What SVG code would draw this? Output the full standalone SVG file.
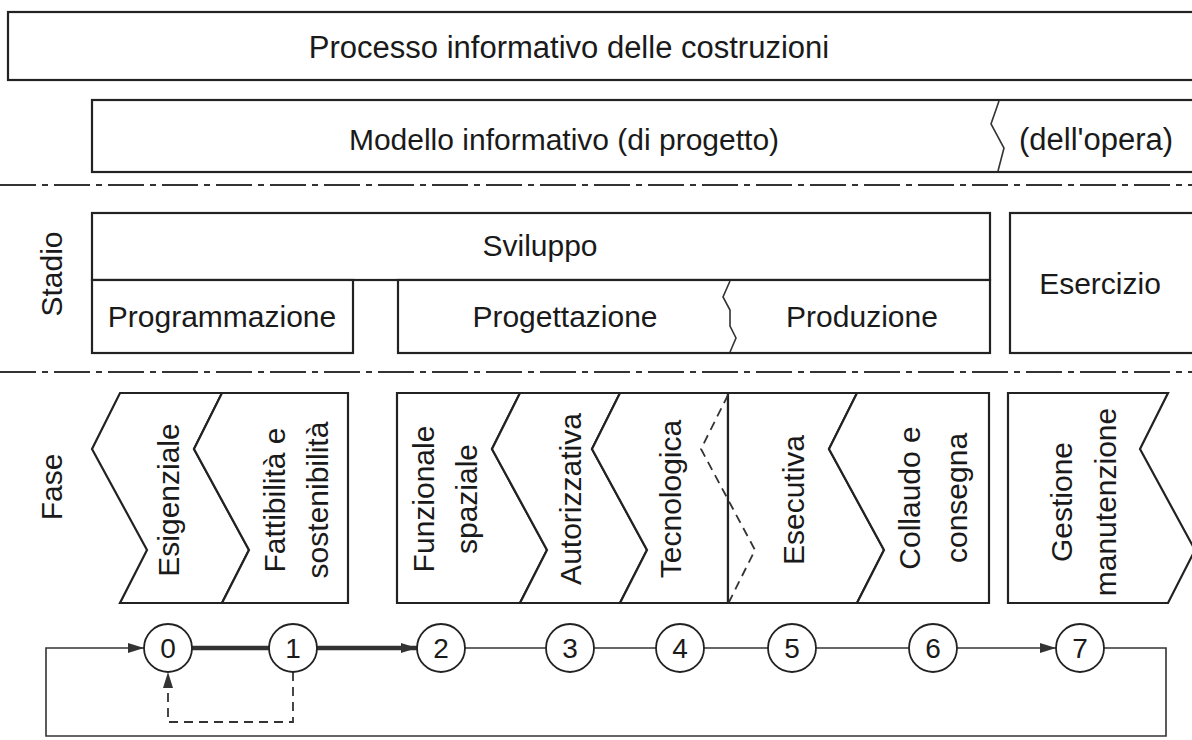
<svg xmlns="http://www.w3.org/2000/svg" width="1192" height="740" viewBox="0 0 1192 740">
<defs>
<marker id="arr" markerUnits="userSpaceOnUse" markerWidth="18" markerHeight="12" refX="16" refY="6" orient="auto"><path d="M0,1 L16,6 L0,11 Z" fill="#333"/></marker>
</defs>
<style>
.box{fill:#fff;stroke:#222;stroke-width:2.2}
.t{font-family:"Liberation Sans",Arial,sans-serif;font-size:30px;fill:#1a1a1a;text-anchor:middle}
.big{font-size:31px}
.sep{stroke:#333;stroke-width:2;stroke-dasharray:36 6 6 6;fill:none}
.ln{stroke:#333;stroke-width:1.6;fill:none}
.thick{stroke:#333;stroke-width:4.5;fill:none}
.dash{stroke:#333;stroke-width:1.8;stroke-dasharray:9 6;fill:none}
.c{fill:#fff;stroke:#222;stroke-width:1.8}
.n{font-family:"Liberation Sans",Arial,sans-serif;font-size:28px;fill:#1a1a1a;text-anchor:middle}
</style>
<rect width="1192" height="740" fill="#fff"/>

<g id="processo">
<rect class="box" x="8" y="12" width="1200" height="68"/>
<text class="t big" x="569" y="58">Processo informativo delle costruzioni</text>
</g>
<g id="modello">
<rect class="box" x="92" y="100" width="1120" height="72"/>
<path class="ln" d="M999 101 L991 124 L1004 148 L998 171"/>
<text class="t" x="564" y="150">Modello informativo (di progetto)</text>
<text class="t big" x="1096" y="150">(dell'opera)</text>
</g>

<g id="separators">
<line class="sep" x1="0" y1="185" x2="1192" y2="185"/>
<line class="sep" x1="0" y1="372" x2="1192" y2="372"/>
</g>

<g id="stadio-label"><text class="t" transform="translate(62,274) rotate(-90)">Stadio</text></g>
<g id="fase-label"><text class="t" transform="translate(62,487) rotate(-90)">Fase</text></g>

<g id="sviluppo">
<rect class="box" x="92" y="213" width="898" height="67"/>
<text class="t" x="540" y="256">Sviluppo</text>
</g>
<g id="programmazione">
<rect class="box" x="92" y="280" width="261" height="73"/>
<text class="t" x="222" y="327">Programmazione</text>
</g>
<g id="progettazione-produzione">
<rect class="box" x="398" y="280" width="592" height="73"/>
<path class="ln" d="M730 281 L723 297 L730 310 L730 326 L736 338 L730 352"/>
<text class="t" x="565" y="327">Progettazione</text>
<text class="t" x="862" y="327">Produzione</text>
</g>
<g id="esercizio">
<rect class="box" x="1010" y="213" width="200" height="140"/>
<text class="t" x="1100" y="294">Esercizio</text>
</g>

<g id="fase-esigenziale">
<polygon class="box" points="120,393 222,393 194,449 249,550 222,603 120,603 147,550 92,449"/>
<text class="t" transform="translate(179,500) rotate(-90)">Esigenziale</text>
</g>
<g id="fase-fattibilita">
<polygon class="box" points="222,393 348,393 348,603 222,603 249,550 194,449"/>
<text class="t" transform="translate(285,500) rotate(-90)">Fattibilità e</text>
<text class="t" transform="translate(328,500) rotate(-90)">sostenibilità</text>
</g>
<g id="fase-funzionale">
<polygon class="box" points="397,393 520,393 492,449 547,550 520,603 397,603"/>
<text class="t" transform="translate(434,499) rotate(-90)">Funzionale</text>
<text class="t" transform="translate(477,499) rotate(-90)">spaziale</text>
</g>
<g id="fase-autorizzativa">
<polygon class="box" points="520,393 620,393 592,449 647,550 620,603 520,603 547,550 492,449"/>
<text class="t" transform="translate(581,499) rotate(-90)">Autorizzativa</text>
</g>
<g id="fase-tecnologica">
<polygon class="box" points="620,393 728,393 728,603 620,603 647,550 592,449"/>
<text class="t" transform="translate(681,499) rotate(-90)">Tecnologica</text>
</g>
<g id="fase-esecutiva">
<polygon class="box" points="728,393 857,393 829,449 884,550 857,603 728,603"/>
<path class="dash" d="M728 395 L701 449 L755 550 L729 602"/>
<text class="t" transform="translate(804,500) rotate(-90)">Esecutiva</text>
</g>
<g id="fase-collaudo">
<polygon class="box" points="857,393 989,393 989,603 857,603 884,550 829,449"/>
<text class="t" transform="translate(920,498) rotate(-90)">Collaudo e</text>
<text class="t" transform="translate(967,498) rotate(-90)">consegna</text>
</g>
<g id="fase-gestione">
<polygon class="box" points="1008,393 1168,393 1140,449 1195,550 1168,603 1008,603"/>
<text class="t" transform="translate(1072,502) rotate(-90)">Gestione</text>
<text class="t" transform="translate(1116,502) rotate(-90)">manutenzione</text>
</g>

<g id="connectors">
<path class="ln" d="M1104 648 H1166 V736 H46 V648 H144" marker-end="url(#arr)"/>
<line class="thick" x1="192" y1="648" x2="269" y2="648"/>
<line class="thick" x1="317" y1="648" x2="417" y2="648" marker-end="url(#arr)"/>
<line class="ln" x1="465" y1="648" x2="546" y2="648"/>
<line class="ln" x1="594" y1="648" x2="656" y2="648"/>
<line class="ln" x1="704" y1="648" x2="768" y2="648"/>
<line class="ln" x1="816" y1="648" x2="909" y2="648"/>
<line class="ln" x1="957" y1="648" x2="1056" y2="648" marker-end="url(#arr)"/>
<path class="dash" d="M293 672 V722 H168 V672" marker-end="url(#arr)"/>
</g>

<g id="n0"><circle class="c" cx="168" cy="648" r="24"/><text class="n" x="168" y="658">0</text></g>
<g id="n1"><circle class="c" cx="293" cy="648" r="24"/><text class="n" x="293" y="658">1</text></g>
<g id="n2"><circle class="c" cx="441" cy="648" r="24"/><text class="n" x="441" y="658">2</text></g>
<g id="n3"><circle class="c" cx="570" cy="648" r="24"/><text class="n" x="570" y="658">3</text></g>
<g id="n4"><circle class="c" cx="680" cy="648" r="24"/><text class="n" x="680" y="658">4</text></g>
<g id="n5"><circle class="c" cx="792" cy="648" r="24"/><text class="n" x="792" y="658">5</text></g>
<g id="n6"><circle class="c" cx="933" cy="648" r="24"/><text class="n" x="933" y="658">6</text></g>
<g id="n7"><circle class="c" cx="1080" cy="648" r="24"/><text class="n" x="1080" y="658">7</text></g>
</svg>
